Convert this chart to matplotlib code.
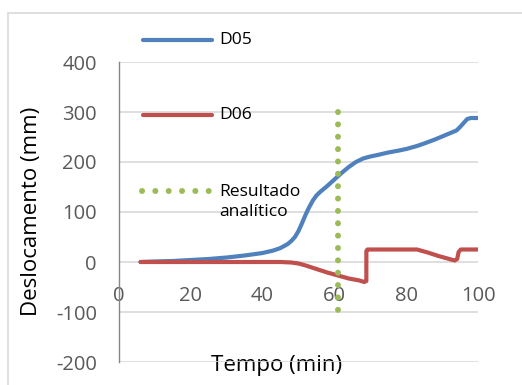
import matplotlib
matplotlib.use("Agg")
import matplotlib.pyplot as plt
from matplotlib.lines import Line2D
from matplotlib.patches import Rectangle

plt.rcParams['font.family'] = ['Open Sans', 'DejaVu Sans']
plt.rcParams['axes.unicode_minus'] = False

# Displacement series (mm) versus time (min)
tempo_d05 = [6, 10, 15, 20, 25, 30, 35, 40, 43, 45, 47, 48, 49, 50, 51, 52, 53,
             54, 55, 56, 58, 60, 62, 64, 66, 68, 70, 72, 75, 78, 80, 83, 85,
             88, 90, 93, 94, 95, 96, 97, 98, 100]
d05 = [0, 1, 2, 4, 6, 9, 13, 18, 23, 28, 36, 42, 50, 62, 78, 95, 110,
       123, 133, 140, 152, 165, 178, 190, 200, 207, 211, 214, 219, 223, 226, 232, 237,
       245, 251, 260, 263, 270, 278, 286, 288, 288]

tempo_d06 = [6, 20, 40, 45, 48, 50, 52, 55, 58, 61, 64, 67, 68.3, 68.9,
             68.9, 69.2, 75, 83, 86, 89, 92, 93.5, 94.2, 94.6, 95.2, 100]
d06 = [0, 0, 0, 0, -1, -3, -7, -14, -21, -27, -33, -37, -40, -38,
       22, 25, 25, 25, 19, 12, 6, 3, 6, 20, 25, 25]

# Analytical result: vertical reference at t = 61 min
tempo_analitico = [61, 61]
faixa_analitico = [300, -100]

x_ticks = [0, 20, 40, 60, 80, 100]
y_ticks = [-200, -100, 0, 100, 200, 300, 400]
series_labels = ['D05', 'D06', 'Resultado\nanalítico']

BLUE = '#4F81BD'
RED = '#C0504D'
GREEN = '#9BBB59'
GRID = '#D9D9D9'

W, H = 522, 385
fig = plt.figure(figsize=(W / 100, H / 100), dpi=100)
fig.patch.set_facecolor('white')


def fx(px):
    return px / W


def fy(py):
    return 1 - py / H


# Chart-area frame
fig.add_artist(Rectangle((fx(8), -0.1), 1.2, fy(13) + 0.1,
                         transform=fig.transFigure, fill=False,
                         edgecolor=GRID, linewidth=1.2))

ax = fig.add_axes([fx(119), fy(362), fx(478) - fx(119), fy(62) - fy(362)])
ax.set_facecolor('white')

DOT_LW = 4.3
DOT_PATTERN = (0, (0.01, 8.9 / DOT_LW - 0.01))

ax.plot(tempo_d05, d05, color=BLUE, lw=3.0, solid_capstyle='round',
        solid_joinstyle='round', zorder=3)
ax.plot(tempo_d06, d06, color=RED, lw=3.0, solid_capstyle='round',
        solid_joinstyle='round', zorder=4)
ax.plot(tempo_analitico, faixa_analitico, color=GREEN, lw=DOT_LW,
        linestyle=DOT_PATTERN, dash_capstyle='round', zorder=5)

ax.set_xlim(0, 100)
ax.set_ylim(-200, 400)
ax.set_xticks(x_ticks)
ax.set_yticks(y_ticks)

for side in ['top', 'right']:
    ax.spines[side].set_visible(False)
ax.spines['bottom'].set_position(('data', 0))
ax.spines['bottom'].set_visible(False)
ax.spines['left'].set_color('#868686')
ax.spines['left'].set_linewidth(1.0)

ax.yaxis.grid(True, color=GRID, linewidth=1.2)
ax.set_axisbelow(True)

ax.tick_params(axis='both', length=0, labelsize=14.5, labelcolor='#595959')
ax.tick_params(axis='y', pad=16)
ax.tick_params(axis='x', pad=17)

ax.set_xlabel('Tempo (min)', fontsize=16, color='black')
ax.xaxis.set_label_coords((277 - 119) / 359, (362 - 366) / 300)
ax.xaxis.label.set_verticalalignment('center')

ax.set_ylabel('Deslocamento (mm)', fontsize=16, color='black')
ax.yaxis.set_label_coords((32 - 119) / 359, (362 - 211) / 300)
ax.yaxis.label.set_verticalalignment('center')

# Legend entries
leg_fs = 12.6
fig.add_artist(Line2D([fx(143), fx(212)], [fy(40), fy(40)], transform=fig.transFigure,
                      color=BLUE, lw=3.0, solid_capstyle='round'))
fig.add_artist(Line2D([fx(143), fx(212)], [fy(115), fy(115)], transform=fig.transFigure,
                      color=RED, lw=3.0, solid_capstyle='round'))
fig.add_artist(Line2D([fx(142), fx(210)], [fy(191), fy(191)], transform=fig.transFigure,
                      color=GREEN, lw=DOT_LW, linestyle=(0, (0.01, 9.6 / DOT_LW - 0.01)),
                      dash_capstyle='round'))
fig.text(fx(219), fy(40), series_labels[0], fontsize=leg_fs, va='center', ha='left')
fig.text(fx(219), fy(115), series_labels[1], fontsize=leg_fs, va='center', ha='left')
fig.text(fx(219), fy(202), series_labels[2], fontsize=leg_fs, va='center', ha='left',
         linespacing=1.4)

fig.savefig('out.png', dpi=100, facecolor='white')
